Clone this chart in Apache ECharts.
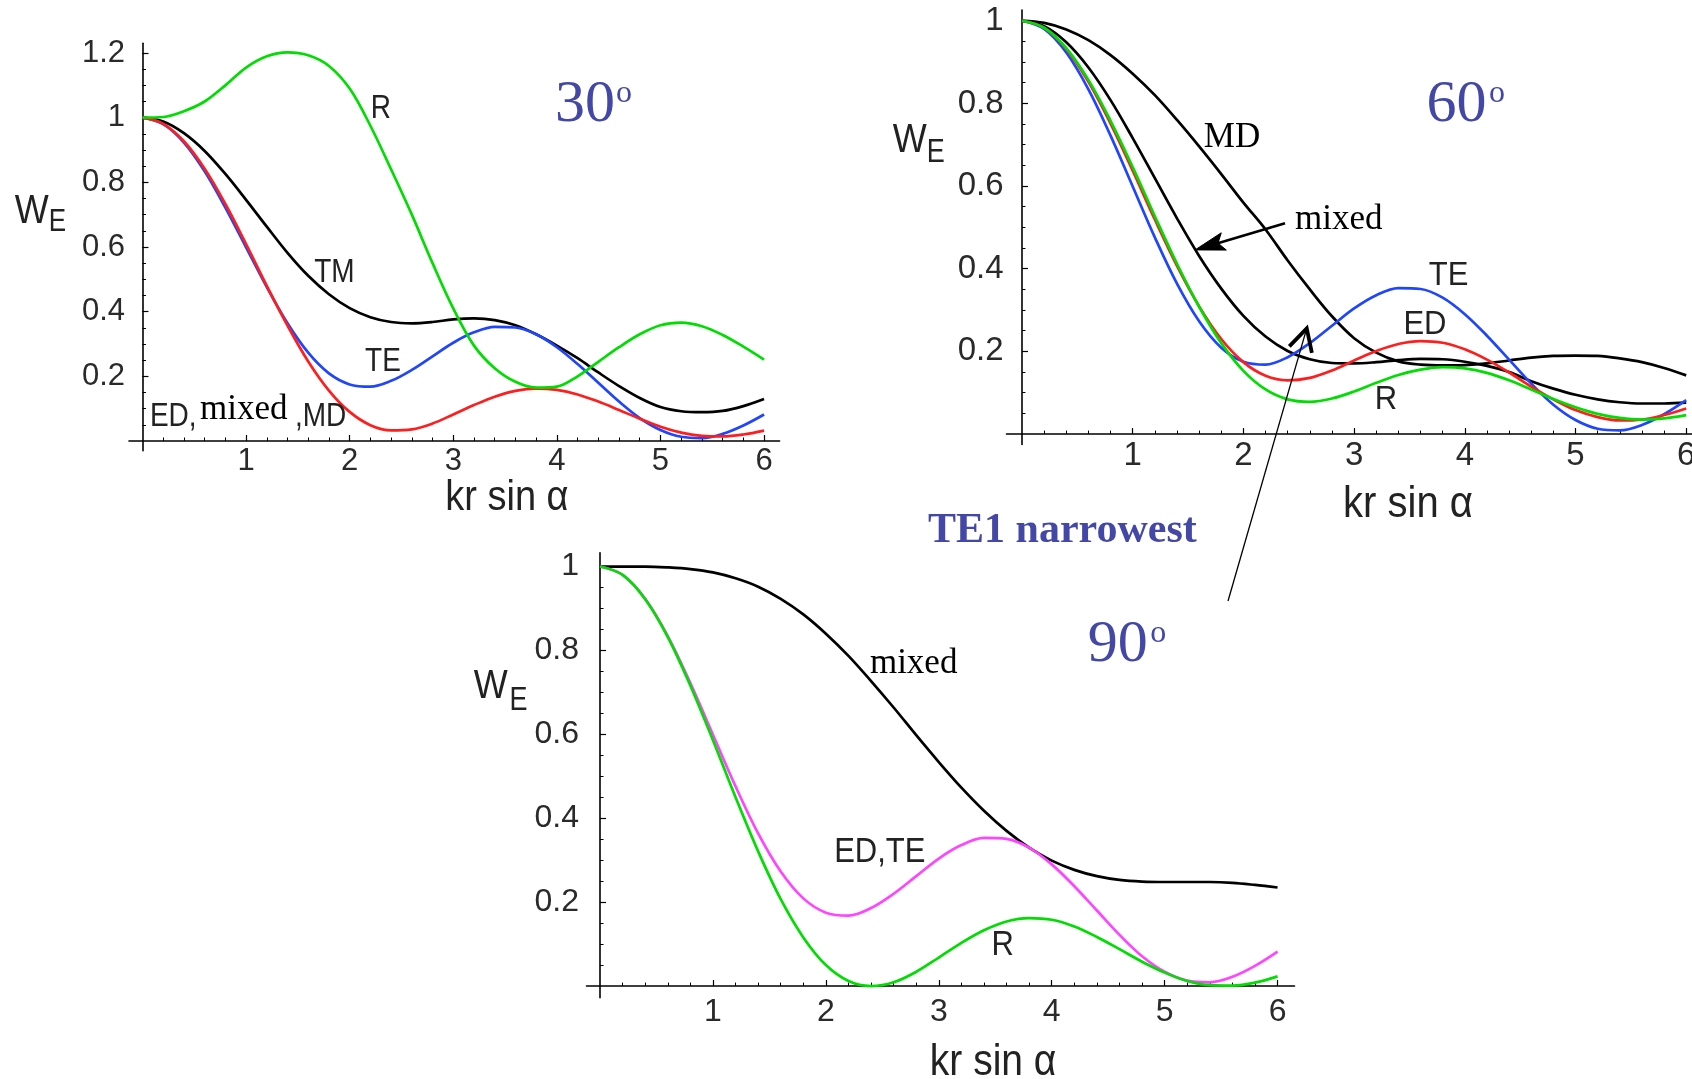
<!DOCTYPE html>
<html>
<head>
<meta charset="utf-8">
<title>W_E versus kr sin α</title>
<script src="https://cdn.jsdelivr.net/npm/echarts@6/dist/echarts.min.js"></script>
<style>
html, body { margin: 0; padding: 0; background: #ffffff; }
#chart { width: 1692px; height: 1079px; }
</style>
</head>
<body>
<div id="chart"></div>
<script>
// Sample positions along kr sin α
const xs = [0, 0.2, 0.4, 0.6, 0.8, 1, 1.2, 1.4, 1.6, 1.8, 2, 2.2, 2.4, 2.6, 2.8, 3,
            3.2, 3.4, 3.6, 3.8, 4, 4.2, 4.4, 4.6, 4.8, 5, 5.2, 5.4, 5.6, 5.8, 6];

// 30° panel
const r30   = [1.000, 1.002, 1.020, 1.050, 1.100, 1.155, 1.190, 1.202, 1.193, 1.160, 1.090, 0.975, 0.840, 0.700, 0.550, 0.410,
               0.295, 0.225, 0.183, 0.165, 0.168, 0.200, 0.245, 0.290, 0.330, 0.358, 0.366, 0.355, 0.328, 0.292, 0.252];
const tm30  = [1.000, 0.988, 0.952, 0.897, 0.826, 0.746, 0.663, 0.582, 0.511, 0.454, 0.411, 0.383, 0.368, 0.364, 0.368, 0.376,
               0.379, 0.374, 0.358, 0.330, 0.295, 0.256, 0.212, 0.170, 0.133, 0.105, 0.092, 0.089, 0.093, 0.108, 0.130];
const te30  = [1.000, 0.980, 0.923, 0.834, 0.722, 0.599, 0.476, 0.364, 0.273, 0.209, 0.175, 0.168, 0.186, 0.220, 0.262, 0.304,
               0.336, 0.353, 0.351, 0.330, 0.290, 0.238, 0.180, 0.122, 0.071, 0.034, 0.013, 0.009, 0.022, 0.048, 0.082];
const ed30  = [1.000, 0.981, 0.927, 0.842, 0.733, 0.609, 0.480, 0.357, 0.246, 0.156, 0.090, 0.049, 0.033, 0.036, 0.054, 0.082,
               0.111, 0.137, 0.155, 0.162, 0.158, 0.144, 0.122, 0.096, 0.069, 0.044, 0.026, 0.016, 0.014, 0.020, 0.032];

// 60° panel
const md60    = [1.000, 0.995, 0.979, 0.953, 0.917, 0.872, 0.820, 0.760, 0.696, 0.629, 0.560, 0.495, 0.420, 0.350, 0.285, 0.232,
                 0.197, 0.176, 0.168, 0.166, 0.167, 0.171, 0.178, 0.185, 0.189, 0.190, 0.189, 0.183, 0.174, 0.160, 0.142];
const mixed60 = [1.000, 0.987, 0.948, 0.887, 0.808, 0.716, 0.619, 0.522, 0.431, 0.352, 0.286, 0.236, 0.201, 0.181, 0.172, 0.171,
                 0.174, 0.179, 0.182, 0.181, 0.175, 0.165, 0.150, 0.128, 0.110, 0.095, 0.084, 0.077, 0.074, 0.074, 0.076];
const te60    = [1.000, 0.980, 0.923, 0.834, 0.722, 0.599, 0.476, 0.364, 0.273, 0.209, 0.175, 0.168, 0.186, 0.220, 0.262, 0.304,
                 0.336, 0.353, 0.351, 0.330, 0.290, 0.238, 0.180, 0.122, 0.071, 0.034, 0.013, 0.009, 0.022, 0.048, 0.082];
const ed60    = [1.000, 0.983, 0.932, 0.852, 0.751, 0.637, 0.519, 0.407, 0.309, 0.230, 0.174, 0.141, 0.130, 0.136, 0.154, 0.178,
                 0.201, 0.218, 0.225, 0.221, 0.205, 0.180, 0.149, 0.115, 0.084, 0.058, 0.041, 0.033, 0.035, 0.046, 0.062];
const r60     = [1.000, 0.983, 0.934, 0.857, 0.758, 0.646, 0.527, 0.412, 0.308, 0.220, 0.153, 0.108, 0.084, 0.078, 0.086, 0.103,
                 0.124, 0.143, 0.156, 0.162, 0.159, 0.148, 0.130, 0.108, 0.085, 0.065, 0.049, 0.039, 0.035, 0.038, 0.046];

// 90° panel
const mixed90 = [1.000, 1.000, 1.000, 0.998, 0.994, 0.986, 0.972, 0.952, 0.923, 0.886, 0.840, 0.787, 0.727, 0.664, 0.598, 0.534,
                 0.473, 0.418, 0.370, 0.330, 0.299, 0.277, 0.262, 0.253, 0.249, 0.248, 0.248, 0.248, 0.246, 0.241, 0.235];
const edte90  = [1.000, 0.980, 0.923, 0.834, 0.722, 0.599, 0.476, 0.364, 0.273, 0.209, 0.175, 0.168, 0.186, 0.220, 0.262, 0.304,
                 0.336, 0.353, 0.351, 0.330, 0.290, 0.238, 0.180, 0.122, 0.071, 0.034, 0.013, 0.009, 0.022, 0.048, 0.082];
const r90     = [1.000, 0.980, 0.922, 0.832, 0.716, 0.586, 0.450, 0.321, 0.207, 0.116, 0.050, 0.012, 0.000, 0.009, 0.034, 0.068,
                 0.103, 0.133, 0.154, 0.162, 0.158, 0.142, 0.117, 0.088, 0.058, 0.032, 0.012, 0.002, 0.001, 0.008, 0.023];

// Tick positions
const xMajor = [1, 2, 3, 4, 5, 6];
const xMinor = [0.2, 0.4, 0.6, 0.8, 1, 1.2, 1.4, 1.6, 1.8, 2, 2.2, 2.4, 2.6, 2.8, 3,
                3.2, 3.4, 3.6, 3.8, 4, 4.2, 4.4, 4.6, 4.8, 5, 5.2, 5.4, 5.6, 5.8, 6];
const yMajor30 = [0.2, 0.4, 0.6, 0.8, 1, 1.2];
const yMajor   = [0.2, 0.4, 0.6, 0.8, 1];
const yMinor30 = [0.05, 0.1, 0.15, 0.2, 0.25, 0.3, 0.35, 0.4, 0.45, 0.5, 0.55, 0.6,
                  0.65, 0.7, 0.75, 0.8, 0.85, 0.9, 0.95, 1, 1.05, 1.1, 1.15, 1.2];
const yMinor   = [0.05, 0.1, 0.15, 0.2, 0.25, 0.3, 0.35, 0.4, 0.45, 0.5,
                  0.55, 0.6, 0.65, 0.7, 0.75, 0.8, 0.85, 0.9, 0.95, 1];

const SANS = '"Liberation Sans", Arial, Helvetica, sans-serif';
const SERIF = '"Liberation Serif", "Times New Roman", Times, serif';
const COL = { green: '#00dd00', red: '#ff1e1e', blue: '#2045ff', black: '#000000', magenta: '#ff45ff', title: '#4347a5', text: '#222222' };

// Panel layout: grid box in pixels, axis extents, tick-label size and offsets
// (tick labels sit at the grid edge, so the margins compensate for the axis padding)
const panels = [
  { box: { left: 129, top: 43.3, width: 650.6, height: 407.4 }, x: [-0.13, 6.15], y: [-0.03, 1.23],
    yMajor: yMajor30, yMinor: yMinor30, tickFont: 31, xMargin: -4.5, yMargin: 4 },
  { box: { left: 1006.5, top: 10, width: 693, height: 434.4 }, x: [-0.14, 6.12], y: [-0.025, 1.026],
    yMajor: yMajor, yMinor: yMinor, tickFont: 33, xMargin: -5, yMargin: 3 },
  { box: { left: 586.5, top: 552.7, width: 708, height: 445.1 }, x: [-0.12, 6.15], y: [-0.028, 1.033],
    yMajor: yMajor, yMinor: yMinor, tickFont: 32, xMargin: -2, yMargin: 7.5 }
];

const fmt = v => String(Math.round(v * 100) / 100);

const grids = [], xAxes = [], yAxes = [];
panels.forEach((p, i) => {
  grids.push(Object.assign({ containLabel: false, outerBoundsMode: 'none' }, p.box));
  const base = { gridIndex: i, type: 'value', splitLine: { show: false }, silent: true };
  const labelStyle = { color: '#2a2a2a', fontFamily: SANS, fontSize: p.tickFont, formatter: fmt };
  // major x axis: line, long ticks, labels
  xAxes.push(Object.assign({}, base, {
    min: p.x[0], max: p.x[1], position: 'bottom',
    axisLine: { show: true, onZero: true, onZeroAxisIndex: 2 * i, lineStyle: { color: '#000', width: 1.6 } },
    axisTick: { show: true, inside: true, length: 6, customValues: xMajor, lineStyle: { color: '#000', width: 1.2 } },
    axisLabel: Object.assign({ show: true, customValues: xMajor, margin: p.xMargin }, labelStyle)
  }));
  // minor x axis: short ticks only
  xAxes.push(Object.assign({}, base, {
    min: p.x[0], max: p.x[1], position: 'bottom',
    axisLine: { show: false, onZero: true, onZeroAxisIndex: 2 * i },
    axisTick: { show: true, inside: true, length: 3.5, customValues: xMinor, lineStyle: { color: '#000', width: 1 } },
    axisLabel: { show: false }
  }));
  yAxes.push(Object.assign({}, base, {
    min: p.y[0], max: p.y[1], position: 'left',
    axisLine: { show: true, onZero: true, onZeroAxisIndex: 2 * i, lineStyle: { color: '#000', width: 1.6 } },
    axisTick: { show: true, inside: true, length: 6, customValues: p.yMajor, lineStyle: { color: '#000', width: 1.2 } },
    axisLabel: Object.assign({ show: true, customValues: p.yMajor, margin: p.yMargin }, labelStyle)
  }));
  yAxes.push(Object.assign({}, base, {
    min: p.y[0], max: p.y[1], position: 'left',
    axisLine: { show: false, onZero: true, onZeroAxisIndex: 2 * i },
    axisTick: { show: true, inside: true, length: 3.5, customValues: p.yMinor, lineStyle: { color: '#000', width: 1 } },
    axisLabel: { show: false }
  }));
});

const curves = [
  [0, tm30, COL.black], [0, te30, COL.blue], [0, ed30, COL.red], [0, r30, COL.green],
  [1, md60, COL.black], [1, mixed60, COL.black], [1, te60, COL.blue], [1, ed60, COL.red], [1, r60, COL.green],
  [2, mixed90, COL.black], [2, edte90, COL.magenta], [2, r90, COL.green]
];

const series = curves.map(([p, ys, color]) => ({
  type: 'line',
  xAxisIndex: 2 * p,
  yAxisIndex: 2 * p,
  data: xs.map((x, k) => [x, ys[k]]),
  smooth: 0.35,
  showSymbol: false,
  symbol: 'none',
  lineStyle: { color: color, width: 2.7 },
  itemStyle: { color: color },
  silent: true,
  clip: false
}));

const chart = echarts.init(document.getElementById('chart'), null, { renderer: 'canvas' });
chart.setOption({ animation: false, grid: grids, xAxis: xAxes, yAxis: yAxes, series: series });

// Annotations placed in each panel's data coordinates
const toPx = (p, x, y) => chart.convertToPixel({ xAxisIndex: 2 * p, yAxisIndex: 2 * p }, [x, y]);

function text(p, x, y, str, o) {
  const pt = toPx(p, x, y);
  const align = o.align || 'center';
  return {
    type: 'text', x: pt[0], y: pt[1], scaleY: o.sy || 1, z: 100,
    style: {
      text: str,
      font: (o.weight || 'normal') + ' ' + o.size + 'px ' + (o.family || SANS),
      fill: o.color || COL.text,
      align: align, verticalAlign: 'middle',
      textAlign: align, textVerticalAlign: 'middle'
    }
  };
}

const s1 = { size: 28, sy: 1.2 };
const s2 = { size: 31, sy: 1.08 };
const s3 = { size: 31, sy: 1.15 };
const serif = { size: 35, family: SERIF, color: '#000' };
const bigNum = { size: 60, family: SERIF, color: COL.title, align: 'left' };
const supO = { size: 32, family: SERIF, color: COL.title, align: 'left' };

const elements = [
  // 30°
  text(0, 2.30, 1.027, 'R', s1),
  text(0, 1.853, 0.520, 'TM', s1),
  text(0, 2.321, 0.246, 'TE', s1),
  text(0, 0.072, 0.076, 'ED,', Object.assign({ align: 'left' }, s1)),
  text(0, 0.555, 0.0974, 'mixed', Object.assign({}, serif, { align: 'left' })),
  text(0, 1.472, 0.076, ',MD', Object.assign({ align: 'left' }, s1)),
  text(0, 3.982, 1.039, '30', bigNum),
  text(0, 4.571, 1.0745, 'o', supO),
  text(0, 3.518, -0.178, 'kr sin α', { size: 38, sy: 1.12 }),
  text(0, -1.069, 0.710, 'W', { size: 36, sy: 1.15 }),
  text(0, -0.820, 0.676, 'E', { size: 26, sy: 1.2 }),
  // 60°
  text(1, 1.897, 0.716, 'MD', serif),
  text(1, 2.466, 0.519, 'mixed', Object.assign({}, serif, { align: 'left' })),
  text(1, 3.853, 0.382, 'TE', s2),
  text(1, 3.64, 0.264, 'ED', s2),
  text(1, 3.288, 0.082, 'R', s2),
  text(1, 3.654, 0.796, '60', bigNum),
  text(1, 4.219, 0.8236, 'o', supO),
  text(1, 3.487, -0.172, 'kr sin α', { size: 40, sy: 1.1 }),
  text(1, -1.015, 0.709, 'W', { size: 36, sy: 1.15 }),
  text(1, -0.779, 0.680, 'E', { size: 27, sy: 1.2 }),
  text(1, -0.849, -0.2347, 'TE1 narrowest', { size: 42, family: SERIF, weight: 'bold', color: COL.title, align: 'left' }),
  // 90°
  text(2, 2.39, 0.769, 'mixed', Object.assign({}, serif, { align: 'left' })),
  text(2, 2.073, 0.319, 'ED,TE', Object.assign({ align: 'left' }, s3)),
  text(2, 3.565, 0.098, 'R', s3),
  text(2, 4.319, 0.813, '90', bigNum),
  text(2, 4.872, 0.840, 'o', supO),
  text(2, 3.481, -0.1836, 'kr sin α', { size: 39, sy: 1.12 }),
  text(2, -0.967, 0.714, 'W', { size: 36, sy: 1.15 }),
  text(2, -0.723, 0.680, 'E', { size: 27, sy: 1.2 })
];

// Thin arrow with an open head pointing at the TE minimum in the 60° panel
(function () {
  const tail = toPx(1, 1.861, -0.404), tip = toPx(1, 2.572, 0.2557);
  const dx = tip[0] - tail[0], dy = tip[1] - tail[1], L = Math.hypot(dx, dy);
  const ux = dx / L, uy = dy / L, a = 28 * Math.PI / 180, len = 25;
  const barb = s => [tip[0] - len * (ux * Math.cos(a) - s * uy * Math.sin(a)),
                     tip[1] - len * (uy * Math.cos(a) + s * ux * Math.sin(a))];
  elements.push({ type: 'line', z: 90, shape: { x1: tail[0], y1: tail[1], x2: tip[0], y2: tip[1] },
                  style: { stroke: '#000', lineWidth: 1.3 } });
  elements.push({ type: 'polyline', z: 90, shape: { points: [barb(1), tip, barb(-1)] },
                  style: { stroke: '#000', lineWidth: 3.8, fill: null, lineJoin: 'miter' } });
})();

// Arrow from the "mixed" label to its curve in the 60° panel
(function () {
  const tail = toPx(1, 2.376, 0.5098), tip = toPx(1, 1.563, 0.4455);
  const dx = tip[0] - tail[0], dy = tip[1] - tail[1], L = Math.hypot(dx, dy);
  const ux = dx / L, uy = dy / L, nx = -uy, ny = ux;
  const at = (back, side) => [tip[0] - back * ux + side * nx, tip[1] - back * uy + side * ny];
  elements.push({ type: 'line', z: 90, shape: { x1: tail[0], y1: tail[1], x2: at(22, 0)[0], y2: at(22, 0)[1] },
                  style: { stroke: '#000', lineWidth: 2.6 } });
  elements.push({ type: 'polygon', z: 91, shape: { points: [tip, at(30, 9), at(24, 0), at(30, -9)] },
                  style: { fill: '#000', stroke: '#000', lineWidth: 1 } });
})();

chart.setOption({ graphic: { elements: elements } });
</script>
</body>
</html>
